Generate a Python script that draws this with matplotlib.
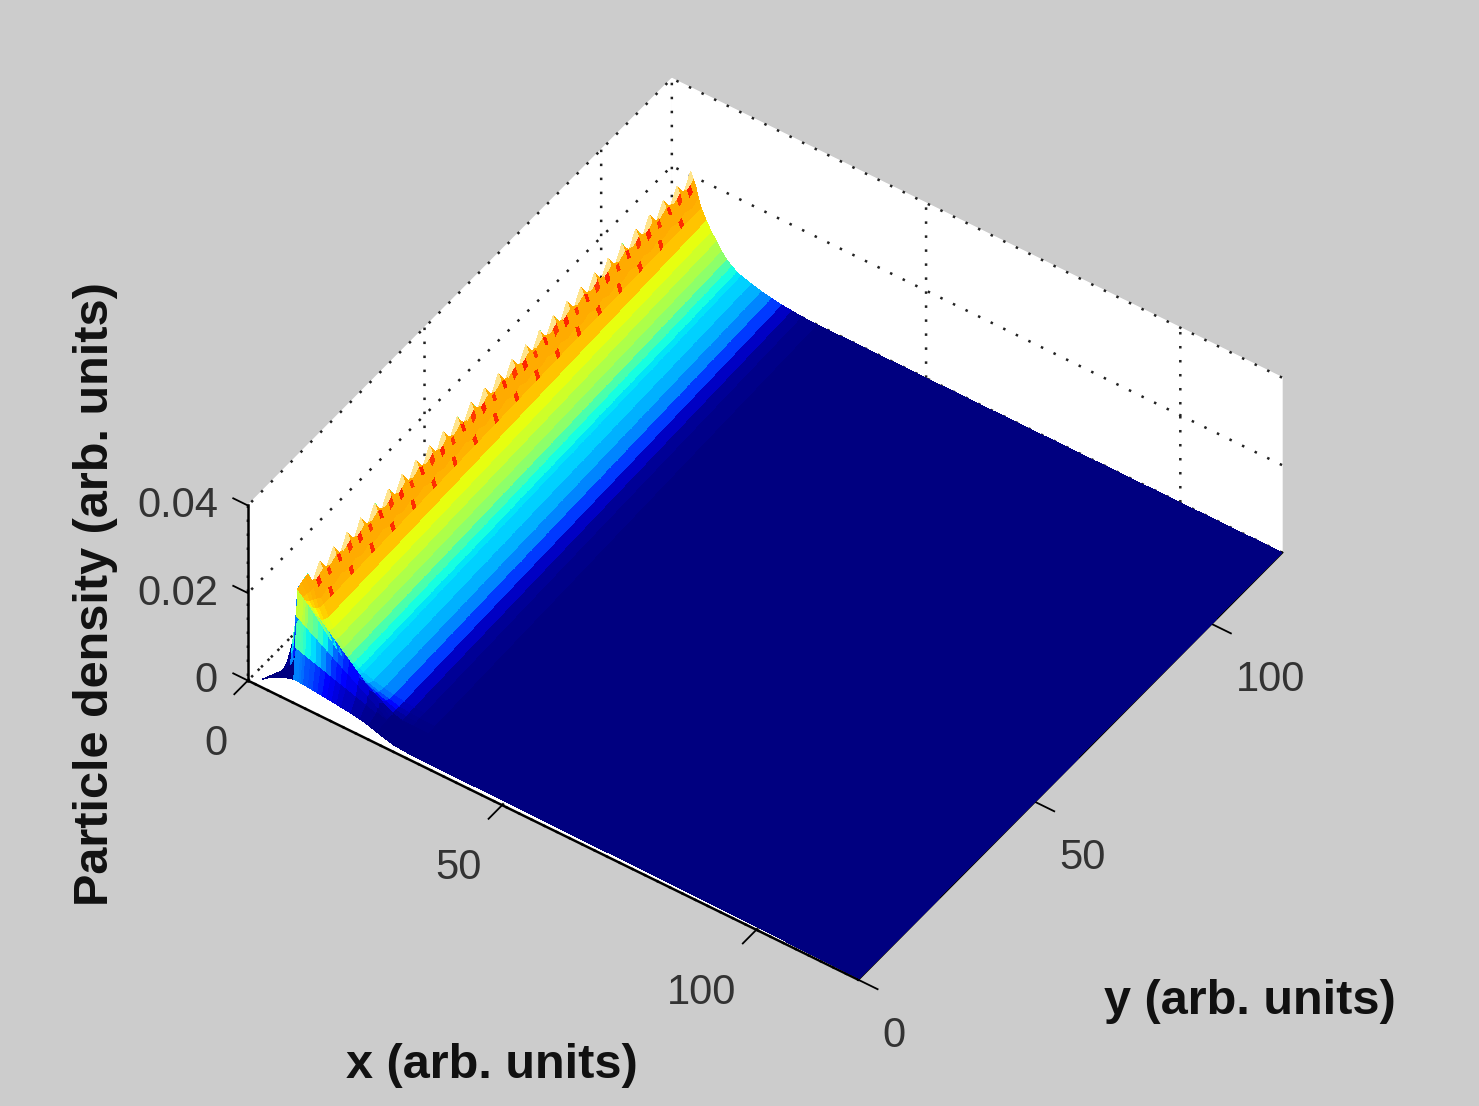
"""Particle density surface, MATLAB style view."""
import numpy as np
import matplotlib
matplotlib.use("Agg")
import matplotlib.pyplot as plt
from matplotlib.transforms import Affine2D

plt.rcParams.update({
    "font.family": ["Liberation Sans", "DejaVu Sans"],
    "grid.color": "#222222",
    "grid.linewidth": 1.8,
    "grid.linestyle": (0, (1, 4.6)),
})
GREY = "#cccccc"
INK = "#333333"
TIP = "#ffe48c"

# -----------------------------------------------------------------------
# DATA
# -----------------------------------------------------------------------
crest_x = 3.7
# distance from the crest along x
profile_dx = [-2.7, -2, -1, -0.4, 0, 0.5, 1, 1.5, 2, 3, 4, 5, 6, 7, 8, 9, 10,
              12, 14, 16, 18, 20, 22, 25]
# density across the ridge, main part
profile_z = [0.0, 0.0008, 0.004, 0.012, 0.0208, 0.0195, 0.018, 0.0158, 0.0138,
             0.0115, 0.0095, 0.0079, 0.0062, 0.0048, 0.0039, 0.0031, 0.0026,
             0.0019, 0.0013, 0.0009, 0.0005, 0.0003, 0.0001, 0.0]
# colour level (0-1 of jet) across the ridge
profile_level = [0.0, 0.0, 0.3, 0.5, 0.73, 0.73, 0.73, 0.72, 0.70, 0.63, 0.60,
                 0.56, 0.52, 0.44, 0.375, 0.35, 0.33, 0.30, 0.255, 0.18, 0.06,
                 0.02, 0.01, 0.0]
# first ridge row, which stands up as the front wall
front_z = [0.0, 0.002, 0.007, 0.012, 0.0197, 0.0192, 0.0187, 0.0181, 0.0176,
           0.0165, 0.0155, 0.0144, 0.0134, 0.0123, 0.0113, 0.0102, 0.0092,
           0.0071, 0.0050, 0.0029, 0.0008, 0.0, 0.0, 0.0]
front_level = [0.0, 0.02, 0.42, 0.25, 0.72, 0.72, 0.70, 0.66, 0.60, 0.56, 0.50,
               0.44, 0.36, 0.28, 0.24, 0.20, 0.16, 0.10, 0.05, 0.02, 0.0, 0.0,
               0.0, 0.0]
# y of the surface's front edge at each node
edge_y = [1.5, 2.5, 3.5, 4.2, 4.5, 4.5, 4.5, 4.4, 4.4, 4.3, 4.2, 4.1, 4.0, 3.9,
          3.8, 3.7, 3.6, 3.4, 3.1, 2.7, 2.2, 1.7, 1.3, 1.1]
# front edge is pulled left at the first nodes
edge_dx = [-1.5, -1.5, -1.0, -0.5]
# the flat far part of the surface
far_x = [35, 45, 60, 80, 100, 120]
far_edge_y = [1.0, 1.0, 0.9, 0.8, 0.6, 0.3]
# teeth along the crest every 4 rows, red specks every 6 rows
tooth_z = [1.0, 0.92, 0.84, 0.92]
step_z = [1.0, 0.97, 0.95, 0.97]
speck_a = [0.14, 0.0, 0.0, 0.12, 0.0, 0.0]
speck_b = [0.0, 0.0, 0.14, 0.0, 0.0, 0.0]
# front rows: share of the front profile, y position
wall_share = [0.35, 0.7, 1.0, 0.6, 0.3, 0.1]
wall_y = [5.0, 5.3, 5.6, 6.6, 7.6, 8.6]
crest_shift_front = 2.2

x_ticks = [0, 50, 100]
y_ticks = [0, 50, 100]
z_ticks = [0, 0.02, 0.04]
x_tick_labels = ["0", "50", "100"]
y_tick_labels = ["0", "50", "100"]
z_tick_labels = ["0", "0.02", "0.04"]

# -----------------------------------------------------------------------
# BUILD THE MESH
# -----------------------------------------------------------------------
dx = np.array(profile_dx)
pz = np.array(profile_z)
pl = np.array(profile_level)
fz = np.array(front_z)
fl = np.array(front_level)
n_far = len(far_x)

rows_y = wall_y + list(range(10, 121))
X, Y, Z, L = [], [], [], []

# front edge row, flat on the floor
edge_nodes = crest_x + crest_shift_front + dx
edge_nodes[:len(edge_dx)] += edge_dx
edge_level = fl * 0.35
edge_level[:len(edge_dx)] = 0
X.append(np.r_[edge_nodes, far_x])
Y.append(np.r_[edge_y, far_edge_y])
Z.append(np.zeros(len(dx) + n_far))
L.append(np.r_[edge_level, np.zeros(n_far)])

for i, y in enumerate(rows_y):
    shift = crest_shift_front * (1 - (y - 5.6) / 114.4)
    if i < len(wall_share):
        w = wall_share[i]
        if i < 3:
            z = fz * w
            lev = fl * (0.4 + 0.6 * w)
        else:
            z = fz * w + pz * (1 - w)
            lev = fl * w + pl * (1 - w)
    else:
        z = pz.copy()
        z[4] *= tooth_z[i % 4]
        z[5:8] *= step_z[i % 4]
        lev = pl.copy()
        lev[5] += speck_a[i % 6]
        lev[7] += speck_b[i % 6]
    X.append(np.r_[crest_x + shift + dx, far_x])
    Y.append(np.r_[np.full(len(dx), y), np.full(n_far, y)])
    Z.append(np.r_[z, np.zeros(n_far)])
    L.append(np.r_[lev, np.zeros(n_far)])

X, Y, Z, L = map(np.array, (X, Y, Z, L))

colors = plt.cm.jet(L)
# pale tips of the teeth on the crest
tip_rgba = matplotlib.colors.to_rgba(TIP)
for i in range(len(wall_share), Z.shape[0]):
    if i % 4 in (0, 3):
        colors[i, 3] = tip_rgba
        colors[i, 4] = tip_rgba

# -----------------------------------------------------------------------
# CHART
# -----------------------------------------------------------------------
fig = plt.figure(figsize=(14.79, 11.06), dpi=100, facecolor=GREY)
side = 1106 / 1479
ax = fig.add_axes([(750 - 553) / 1479, 9 / 1106, side, 1.0],
                  projection="3d", proj_type="ortho", facecolor=GREY)
ax.view_init(elev=44.64, azim=-55.1)
ax.set_box_aspect((744, 741, 246), zoom=0.9466)

ax.plot_surface(X, Y, Z, facecolors=colors, rstride=1, cstride=1,
                shade=False, antialiased=False, linewidth=0)

ax.set_xlim(0, 120, view_margin=0)
ax.set_ylim(0, 120, view_margin=0)
ax.set_zlim(0, 0.04, view_margin=0)
ax.set_xticks(x_ticks)
ax.set_yticks(y_ticks)
ax.set_zticks(z_ticks)
ax.set_xticklabels(x_tick_labels, ha="right")
ax.set_yticklabels(y_tick_labels, ha="left", va="top")
ax.set_zticklabels(z_tick_labels, ha="right", va="top")
ax.zaxis.set_ticks_position("lower")
# z ticks point along -x, as in the MATLAB view
ax.zaxis._get_tickdir = lambda pos: 0

for axis in (ax.xaxis, ax.yaxis, ax.zaxis):
    axis.set_pane_color("white")
    axis.pane.set_edgecolor("white")
    axis.line.set_color("black")
    axis.line.set_linewidth(1.8)
    axis._axinfo["tick"]["outward_factor"] = 0.0
    axis._axinfo["tick"]["inward_factor"] = 0.4
    axis._axinfo["tick"]["linewidth"] = {True: 1.3, False: 1.0}
ax.zaxis._axinfo["tick"]["outward_factor"] = 0.3
ax.zaxis._axinfo["tick"]["inward_factor"] = 0.0
ax.tick_params(axis="x", labelsize=30, labelcolor=INK, pad=17)
ax.tick_params(axis="y", labelsize=30, labelcolor=INK, pad=10)
ax.tick_params(axis="z", labelsize=30, labelcolor=INK, pad=8)

# small pixel nudges of the tick labels; Axis3D resets the transform on
# every get_major_ticks, so keep it from doing that here
for axis, nudge in ((ax.xaxis, (5, -7)), (ax.yaxis, (-2, -16)), (ax.zaxis, (10, 24))):
    for tick in axis.get_major_ticks():
        tick.label1.set_transform(ax.transData + Affine2D().translate(*nudge))
        tick.label1.set_transform = lambda t: None

fig.text(96 / 1479, 1 - 594 / 1106, "Particle density (arb. units)",
         rotation=90, fontsize=35, fontweight="bold", color="#111111",
         ha="center", va="center")
fig.text(492 / 1479, 1 - 1066 / 1106, "x (arb. units)",
         fontsize=35, fontweight="bold", color="#111111", ha="center", va="center")
fig.text(1250 / 1479, 1 - 1002 / 1106, "y (arb. units)",
         fontsize=35, fontweight="bold", color="#111111", ha="center", va="center")

fig.savefig("out.png", dpi=100, facecolor=GREY)
